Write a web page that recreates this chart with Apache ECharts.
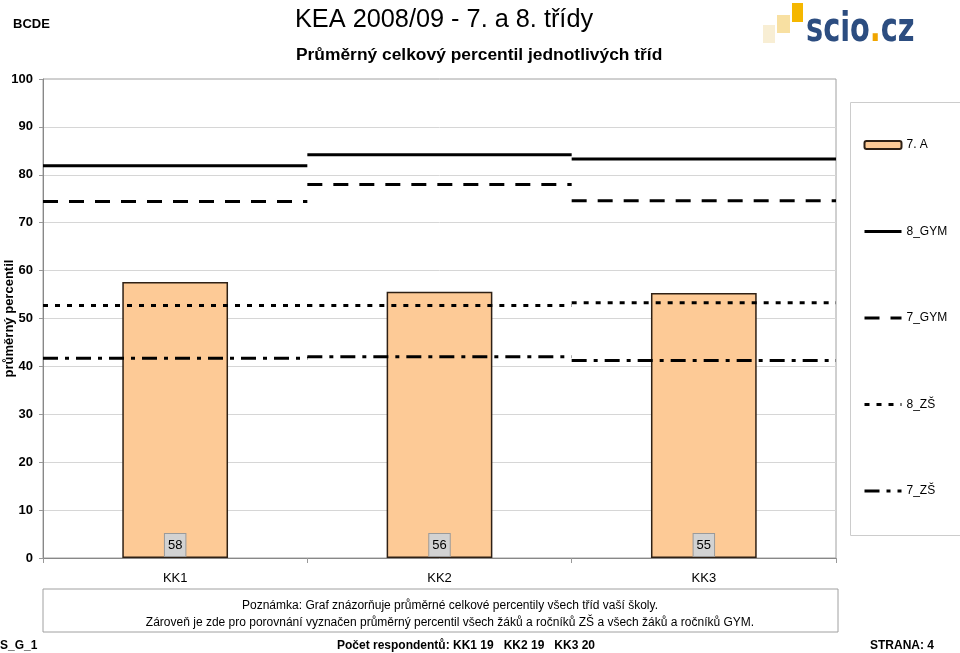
<!DOCTYPE html>
<html>
<head>
<meta charset="utf-8">
<script src="https://cdn.jsdelivr.net/npm/echarts@6/dist/echarts.min.js"></script>
<style>
html,body{margin:0;padding:0;background:#fff;}
#chart{width:960px;height:653px;}
</style>
</head>
<body>
<div id="chart"></div>
<script>
// ---- data ----
const categories = ['KK1', 'KK2', 'KK3'];
const class7A = [57.6, 55.6, 55.3];
const gym8 = [81.9, 84.2, 83.3];
const gym7 = [74.4, 78.0, 74.6];
const zs8 = [52.7, 52.7, 53.3];
const zs7 = [41.7, 42.0, 41.25];
const yTicks = [0, 10, 20, 30, 40, 50, 60, 70, 80, 90, 100];
const respondents = [19, 19, 20];

const FONT = 'Liberation Sans, Arial, sans-serif';

function segments(vals) {
  const out = [];
  vals.forEach((v, i) => {
    out.push([i, v]);
    out.push([i + 1, v]);
    out.push([i + 1, '-']);
  });
  return out;
}

function lineSeries(name, vals, type) {
  return {
    name: name,
    type: 'line',
    xAxisIndex: 1,
    yAxisIndex: 0,
    data: segments(vals),
    symbol: 'none',
    connectNulls: false,
    silent: true,
    z: 5,
    lineStyle: { color: '#000', width: 3, type: type, cap: 'butt' },
    itemStyle: { color: 'rgba(0,0,0,0)', borderWidth: 0 }
  };
}

const chart = echarts.init(document.getElementById('chart'), null, { renderer: 'canvas' });

const option = {
  backgroundColor: '#fff',
  animation: false,
  textStyle: { fontFamily: FONT },
  title: [
    { text: 'BCDE', left: 8, top: 13, textStyle: { fontSize: 13, fontWeight: 'bold', color: '#000', fontFamily: FONT } },
    { text: 'KEA 2008/09 - 7. a 8. třídy', left: 290, top: 3, textStyle: { fontSize: 25.3, fontWeight: 'normal', color: '#000', fontFamily: FONT } },
    { text: 'Průměrný celkový percentil jednotlivých tříd', left: 291, top: 42, textStyle: { fontSize: 17.4, fontWeight: 'bold', color: '#000', fontFamily: FONT } }
  ],
  legend: {
    orient: 'vertical',
    left: 863,
    top: 139,
    padding: 0,
    itemWidth: 37,
    itemHeight: 8,
    itemGap: 74.5,
    itemTextGap: 3,
    lineStyle: { width: 3 },
    textStyle: { fontSize: 12, color: '#000', fontFamily: FONT },
    data: ['7. A', '8_GYM', '7_GYM', '8_ZŠ', '7_ZŠ']
  },
  grid: {
    left: 43, right: 124, top: 79, bottom: 95,
    outerBoundsMode: 'none',
    containLabel: false,
    show: true, borderColor: '#a0a0a0', borderWidth: 1, backgroundColor: '#fff'
  },
  xAxis: [
    {
      type: 'category',
      data: categories,
      axisLine: { lineStyle: { color: '#888', width: 1 } },
      axisTick: { show: true, alignWithLabel: false, length: 5, lineStyle: { color: '#999' } },
      axisLabel: { fontSize: 13, color: '#000', margin: 14, fontFamily: FONT }
    },
    {
      type: 'value',
      min: 0, max: 3,
      show: false
    }
  ],
  yAxis: {
    type: 'value',
    min: yTicks[0],
    max: yTicks[yTicks.length - 1],
    interval: 10,
    name: 'průměrný percentil',
    nameLocation: 'middle',
    nameGap: 27,
    nameRotate: 90,
    nameMoveOverlap: false,
    nameTextStyle: { fontSize: 13, fontWeight: 'bold', color: '#000', fontFamily: FONT },
    axisLine: { show: true, lineStyle: { color: '#888', width: 1 } },
    axisTick: { show: true, length: 4, lineStyle: { color: '#999' } },
    axisLabel: { fontSize: 13, fontWeight: 'bold', color: '#000', margin: 10, fontFamily: FONT },
    splitLine: { show: true, showMaxLine: false, lineStyle: { color: '#d6d6d6', width: 1 } }
  },
  series: [
    {
      name: '7. A',
      type: 'bar',
      data: class7A,
      barWidth: '40%',
      z: 2,
      itemStyle: { color: '#fdca96', borderColor: '#2e2015', borderWidth: 1.5 },
      label: {
        show: true,
        position: 'insideBottom',
        distance: 2,
        formatter: p => Math.round(p.value),
        fontSize: 13,
        color: '#000',
        fontFamily: FONT,
        backgroundColor: '#d2d2d2',
        borderColor: '#9a9a9a',
        borderWidth: 1,
        padding: [5, 3, 4, 3]
      }
    },
    lineSeries('8_GYM', gym8, 'solid'),
    lineSeries('7_GYM', gym7, [15, 11]),
    lineSeries('8_ZŠ', zs8, [5, 7]),
    lineSeries('7_ZŠ', zs7, [15, 7, 4, 7])
  ],
  graphic: [
    // legend box
    { type: 'rect', left: 848, top: 100, shape: { width: 112, height: 433 }, style: { fill: 'none', stroke: '#cccccc', lineWidth: 1 }, z: -1 },
    // logo squares
    { type: 'rect', shape: { x: 763, y: 25, width: 12, height: 18 }, style: { fill: '#f8eed4' } },
    { type: 'rect', shape: { x: 777, y: 15, width: 13, height: 18 }, style: { fill: '#f8e0a2' } },
    { type: 'rect', shape: { x: 792, y: 3, width: 11, height: 19 }, style: { fill: '#f5b700' } },
    {
      type: 'text', x: 806, y: 11, scaleX: 0.8,
      style: {
        text: '{a|scio}{b|.}{a|cz}',
        rich: {
          a: { fontSize: 40, fontWeight: 'bold', fill: '#2c4d80', fontFamily: 'DejaVu Sans Condensed, DejaVu Sans, sans-serif' },
          b: { fontSize: 40, fontWeight: 'bold', fill: '#f0a500', fontFamily: 'DejaVu Sans Condensed, DejaVu Sans, sans-serif' }
        }
      }
    },
    // note box
    { type: 'rect', shape: { x: 43, y: 589, width: 795, height: 43 }, style: { fill: 'none', stroke: '#a0a0a0', lineWidth: 1 } },
    { type: 'text', x: 450, y: 606, style: { text: 'Poznámka: Graf znázorňuje průměrné celkové percentily všech tříd vaší školy.', fontSize: 12, fill: '#000', align: 'center', verticalAlign: 'middle', fontFamily: FONT } },
    { type: 'text', x: 450, y: 623, style: { text: 'Zároveň je zde pro porovnání vyznačen průměrný percentil všech žáků a ročníků ZŠ a všech žáků a ročníků GYM.', fontSize: 12, fill: '#000', align: 'center', verticalAlign: 'middle', fontFamily: FONT } },
    // footer
    { type: 'text', x: 0, y: 646, style: { text: 'S_G_1', fontSize: 12, fontWeight: 'bold', fill: '#000', align: 'left', verticalAlign: 'middle', fontFamily: FONT } },
    { type: 'text', x: 466, y: 646, style: { text: 'Počet respondentů: ' + categories.map((c, i) => c + ' ' + respondents[i]).join('   '), fontSize: 12, fontWeight: 'bold', fill: '#000', align: 'center', verticalAlign: 'middle', fontFamily: FONT } },
    { type: 'text', x: 934, y: 646, style: { text: 'STRANA: 4', fontSize: 12, fontWeight: 'bold', fill: '#000', align: 'right', verticalAlign: 'middle', fontFamily: FONT } }
  ]
};

chart.setOption(option);
</script>
</body>
</html>
